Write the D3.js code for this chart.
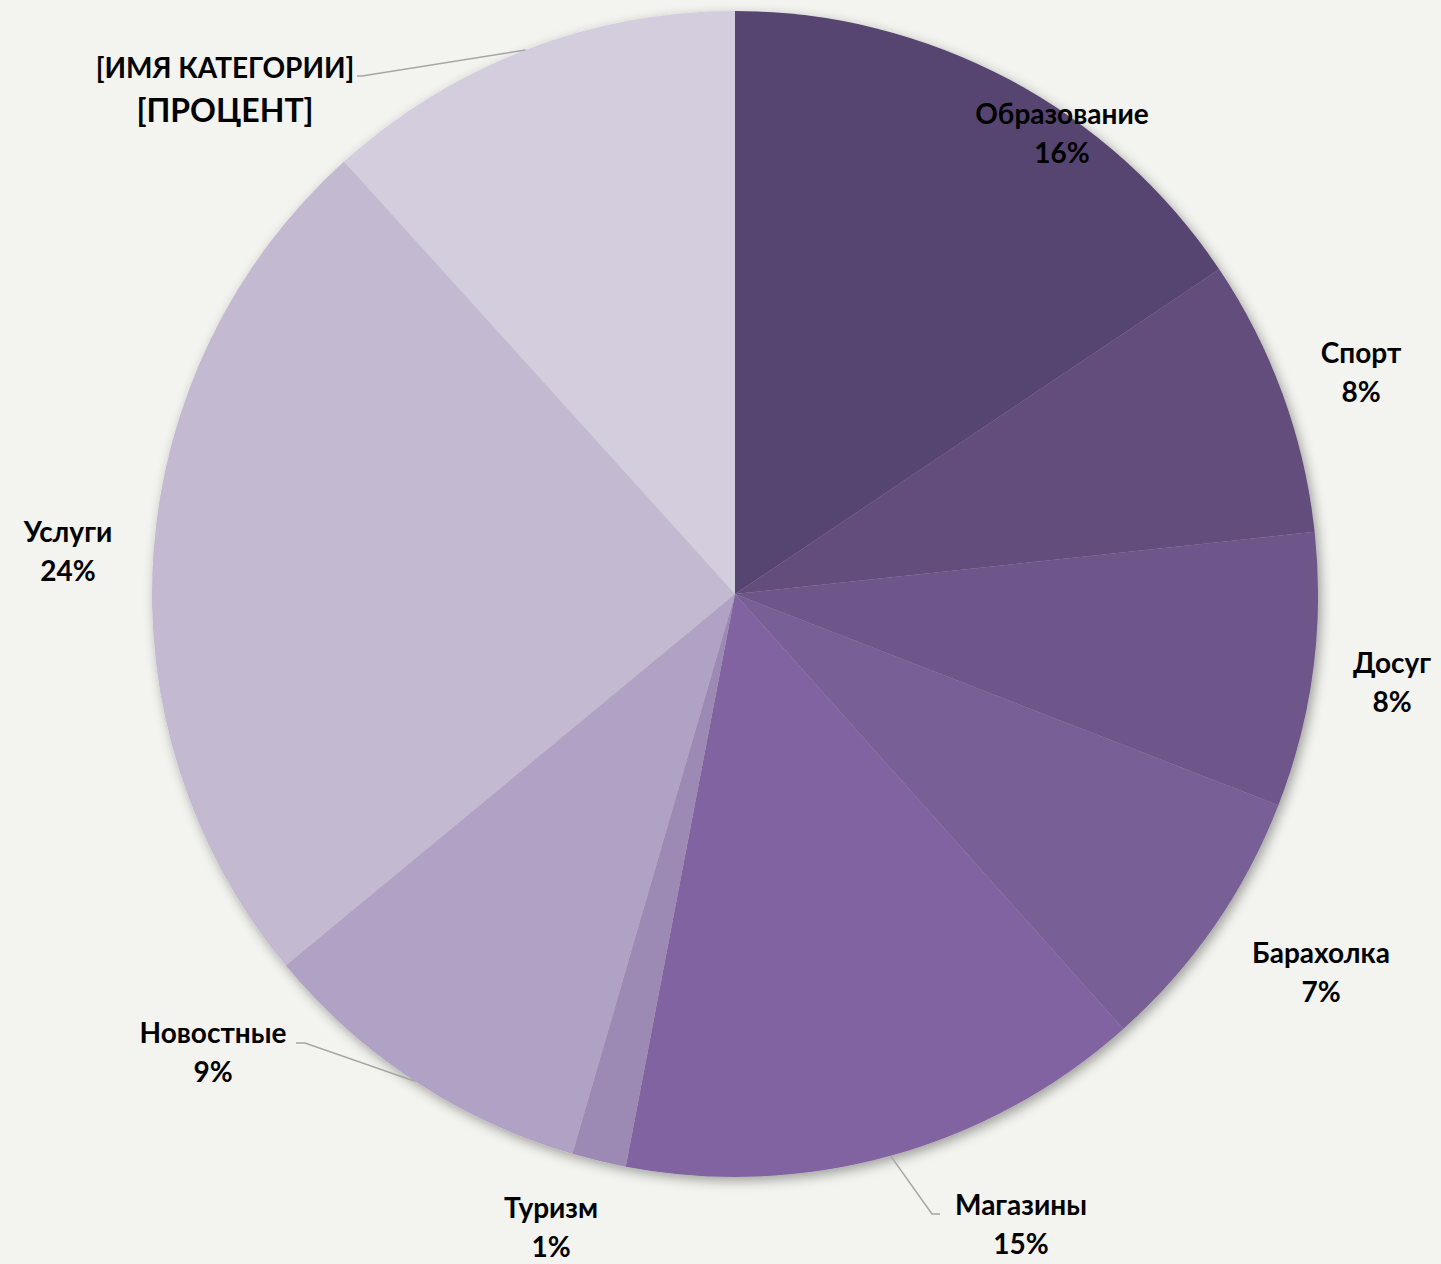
<!DOCTYPE html>
<html>
<head>
<meta charset="utf-8">
<script src="https://cdn.jsdelivr.net/npm/d3@7"></script>
<style>
  body { margin: 0; background: #f3f3ef; }
  #chart { width: 1441px; height: 1264px; }
</style>
</head>
<body>
<div id="chart"></div>
<script>
// pie chart data
const categories = ["Образование", "Спорт", "Досуг", "Барахолка", "Магазины", "Туризм", "Новостные", "Услуги", "[ИМЯ КАТЕГОРИИ]"];
const values = [15.6, 7.7, 7.6, 7.5, 14.6, 1.5, 9.5, 24.3, 11.7];
const percentLabels = ["16%", "8%", "8%", "7%", "15%", "1%", "9%", "24%", "[ПРОЦЕНТ]"];
const colors = ["#574470", "#624d7d", "#6e568a", "#785e96", "#8064a0", "#9c8ab4", "#b0a2c4", "#c3b9d0", "#d4cddd"];

// label centres relative to pie centre (layout only)
const labelOffsets = [[327, -460], [626, -221], [657, 89], [586, 379], [286, 631], [-184, 634], [-522, 459], [-667, -42], [-510, -506]];
// leader lines for labels that sit away from their slice
const leaders = {
    4: [[205, 620], [197, 620]],
    6: [[-439, 449], [-430, 449]],
    8: [[-378, -518], [-373, -518]]
};

const width = 1441, height = 1264;
const cx = 735, cy = 594, radius = 583;

const svg = d3.select("#chart")
    .append("svg")
    .attr("width", width)
    .attr("height", height);

// soft shadow under the pie
const defs = svg.append("defs");
const filter = defs.append("filter").attr("id", "shadow")
    .attr("x", "-10%").attr("y", "-10%").attr("width", "120%").attr("height", "120%");
filter.append("feDropShadow")
    .attr("dx", 3).attr("dy", 4).attr("stdDeviation", 6)
    .attr("flood-color", "#000").attr("flood-opacity", 0.35);

const g = svg.append("g").attr("transform", `translate(${cx}, ${cy})`);

const pie = d3.pie().sort(null).value(d => d);
const arcs = pie(values);
const arc = d3.arc().innerRadius(0).outerRadius(radius);

g.append("g")
    .attr("filter", "url(#shadow)")
    .selectAll("path")
    .data(arcs)
    .enter()
    .append("path")
    .attr("d", arc)
    .attr("fill", (d, i) => colors[i]);

// leader lines
Object.keys(leaders).forEach(k => {
    const i = +k;
    const a = (arcs[i].startAngle + arcs[i].endAngle) / 2;
    const edge = [Math.sin(a) * radius, -Math.cos(a) * radius];
    const pts = [leaders[k][0], leaders[k][1], edge];
    g.append("path")
        .attr("d", d3.line()(pts))
        .attr("fill", "none")
        .attr("stroke", "#a6a6a6")
        .attr("stroke-width", 1.5);
});

// labels
const labels = g.selectAll(".label")
    .data(arcs)
    .enter()
    .append("text")
    .attr("class", "label")
    .attr("text-anchor", "middle")
    .style("font-family", "Lato, 'Open Sans', sans-serif")
    .style("font-weight", "bold")
    .style("font-size", "28px")
    .attr("fill", "#000");

labels.append("tspan")
    .attr("x", (d, i) => labelOffsets[i][0])
    .attr("y", (d, i) => labelOffsets[i][1] - 10)
    .text((d, i) => categories[i]);

labels.append("tspan")
    .attr("x", (d, i) => labelOffsets[i][0])
    .attr("y", (d, i) => labelOffsets[i][1] + (i === 8 ? 34 : 29))
    .style("font-size", (d, i) => i === 8 ? "32px" : null)
    .text((d, i) => percentLabels[i]);
</script>
</body>
</html>
